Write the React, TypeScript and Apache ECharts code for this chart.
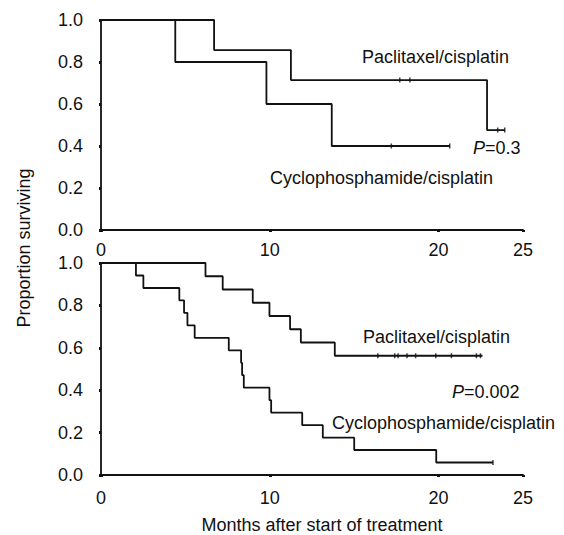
import React, { useEffect, useRef } from "react";
import * as echarts from "echarts";

// ---------- data ----------
// Top panel (Paclitaxel/cisplatin vs Cyclophosphamide/cisplatin)
const topPacTimes = [0, 6.7, 11.25, 22.87];
const topPacSurv = [1, 0.857, 0.714, 0.476];
const topPacEnd = 23.92;
const topPacCensorTimes = [17.7, 18.3, 23.5, 23.92];
const topPacCensorSurv = [0.714, 0.714, 0.476, 0.476];

const topCycTimes = [0, 4.4, 9.8, 13.67];
const topCycSurv = [1, 0.8, 0.6, 0.4];
const topCycEnd = 20.66;
const topCycCensorTimes = [17.2, 20.66];
const topCycCensorSurv = [0.4, 0.4];

// Bottom panel
const botPacTimes = [0, 6.19, 7.21, 8.99, 9.98, 11.2, 11.84, 13.85];
const botPacSurv = [1, 0.9375, 0.875, 0.8125, 0.75, 0.6875, 0.625, 0.5625];
const botPacEnd = 22.6;
const botPacCensorTimes = [16.4, 17.4, 17.6, 18.13, 18.64, 19.83, 20.76, 22.24, 22.48];
const botPacCensorSurv = [0.5625, 0.5625, 0.5625, 0.5625, 0.5625, 0.5625, 0.5625, 0.5625, 0.5625];

const botCycTimes = [0, 2.07, 2.51, 4.64, 4.92, 5.12, 5.55, 7.57, 8.3, 8.36, 8.46, 9.98, 10.08, 11.92, 13.14, 15.0, 19.86];
const botCycSurv = [1, 0.941, 0.882, 0.824, 0.765, 0.706, 0.647, 0.588, 0.529, 0.471, 0.412, 0.353, 0.294, 0.235, 0.176, 0.118, 0.059];
const botCycEnd = 23.22;
const botCycCensorTimes = [23.22];
const botCycCensorSurv = [0.059];

const xTickValues = [0, 10, 20, 25];
const yTickValues = [0, 0.2, 0.4, 0.6, 0.8, 1.0];

const labelPacTop = "Paclitaxel/cisplatin";
const labelCycTop = "Cyclophosphamide/cisplatin";
const pTop = "0.3";
const pBottom = "0.002";
const yTitle = "Proportion surviving";
const xTitle = "Months after start of treatment";

const FONT = "'Liberation Sans', Arial, Helvetica, sans-serif";
const INK = "#111";

function stepData(times: number[], surv: number[], end: number) {
  const d = times.map((t, i) => [t, surv[i]]);
  d.push([end, surv[surv.length - 1]]);
  return d;
}
function pairs(times: number[], surv: number[]) {
  return times.map((t, i) => [t, surv[i]]);
}

export default function App() {
  const ref = useRef<HTMLDivElement>(null);
  useEffect(() => {
    if (!ref.current) return;
    const chart = echarts.init(ref.current, undefined, { renderer: "svg" });

    const xAxisBase = (gridIndex: number, margin: number) => ({
      type: "value",
      gridIndex,
      min: 0,
      max: 25,
      interval: 5,
      axisLine: { show: true, onZero: false, lineStyle: { color: INK, width: 1.8 } },
      axisTick: { show: true, customValues: xTickValues, length: 2, inside: false, lineStyle: { color: INK, width: 3 } },
      axisLabel: {
        show: true,
        customValues: xTickValues,
        margin,
        color: INK,
        fontSize: 18,
        fontFamily: FONT,
      },
      splitLine: { show: false },
    });
    const yAxisBase = (gridIndex: number) => ({
      type: "value",
      gridIndex,
      min: 0,
      max: 1,
      interval: 0.2,
      axisLine: { show: true, onZero: false, lineStyle: { color: INK, width: 1.8 } },
      axisTick: { show: true, customValues: yTickValues, length: 2, lineStyle: { color: INK, width: 3 } },
      axisLabel: {
        show: true,
        margin: 18,
        color: INK,
        fontSize: 18,
        fontFamily: FONT,
        formatter: (v: number) => v.toFixed(1),
      },
      splitLine: { show: false },
    });

    const lineSeries = (data: number[][], idx: number) => ({
      type: "line",
      step: "end",
      xAxisIndex: idx,
      yAxisIndex: idx,
      data,
      symbol: "none",
      lineStyle: { color: INK, width: 1.8 },
      silent: true,
    });
    const censorSeries = (data: number[][], idx: number) => ({
      type: "scatter",
      xAxisIndex: idx,
      yAxisIndex: idx,
      data,
      symbol: "rect",
      symbolSize: [1.5, 5],
      itemStyle: { color: INK },
      silent: true,
    });

    const textEl = (text: string, x: number, y: number, extra: any = {}) => ({
      type: "text",
      x,
      y,
      silent: true,
      ...extra,
      style: {
        text,
        fontSize: 18,
        fontFamily: FONT,
        fill: INK,
        align: "left",
        textAlign: "left",
        verticalAlign: "middle",
        textVerticalAlign: "middle",
        ...(extra.style || {}),
      },
    });

    const pRich = {
      i: { fontStyle: "italic", fontSize: 18, fontFamily: FONT, fill: INK, color: INK },
      n: { fontSize: 18, fontFamily: FONT, fill: INK, color: INK },
    };

    chart.setOption({
      animation: false,
      backgroundColor: "#fff",
      grid: [
        { left: 101, right: 41, top: 20, height: 210, containLabel: false },
        { left: 101, right: 41, top: 263, height: 212, containLabel: false },
      ],
      xAxis: [xAxisBase(0, 11), xAxisBase(1, 14)],
      yAxis: [yAxisBase(0), yAxisBase(1)],
      series: [
        lineSeries(stepData(topPacTimes, topPacSurv, topPacEnd), 0),
        lineSeries(stepData(topCycTimes, topCycSurv, topCycEnd), 0),
        censorSeries(pairs(topPacCensorTimes, topPacCensorSurv), 0),
        censorSeries(pairs(topCycCensorTimes, topCycCensorSurv), 0),
        lineSeries(stepData(botPacTimes, botPacSurv, botPacEnd), 1),
        lineSeries(stepData(botCycTimes, botCycSurv, botCycEnd), 1),
        censorSeries(pairs(botPacCensorTimes, botPacCensorSurv), 1),
        censorSeries(pairs(botCycCensorTimes, botCycCensorSurv), 1),
      ],
      graphic: [
        textEl(labelPacTop, 362, 57),
        textEl(`{i|P}{n|=${pTop}}`, 473, 148, { style: { rich: pRich } }),
        textEl(labelCycTop, 270, 178),
        textEl(labelPacTop, 363, 337),
        textEl(`{i|P}{n|=${pBottom}}`, 452, 392, { style: { rich: pRich } }),
        textEl(labelCycTop, 332, 423),
        textEl(xTitle, 322, 525, { style: { align: "center", textAlign: "center" } }),
        textEl(yTitle, 24, 248, { rotation: Math.PI / 2, style: { align: "center", textAlign: "center" } }),
      ],
    });
    return () => chart.dispose();
  }, []);
  return (
    <div
      ref={ref}
      style={{ position: "fixed", left: 0, top: 0, width: 564, height: 535, background: "#fff" }}
    />
  );
}
